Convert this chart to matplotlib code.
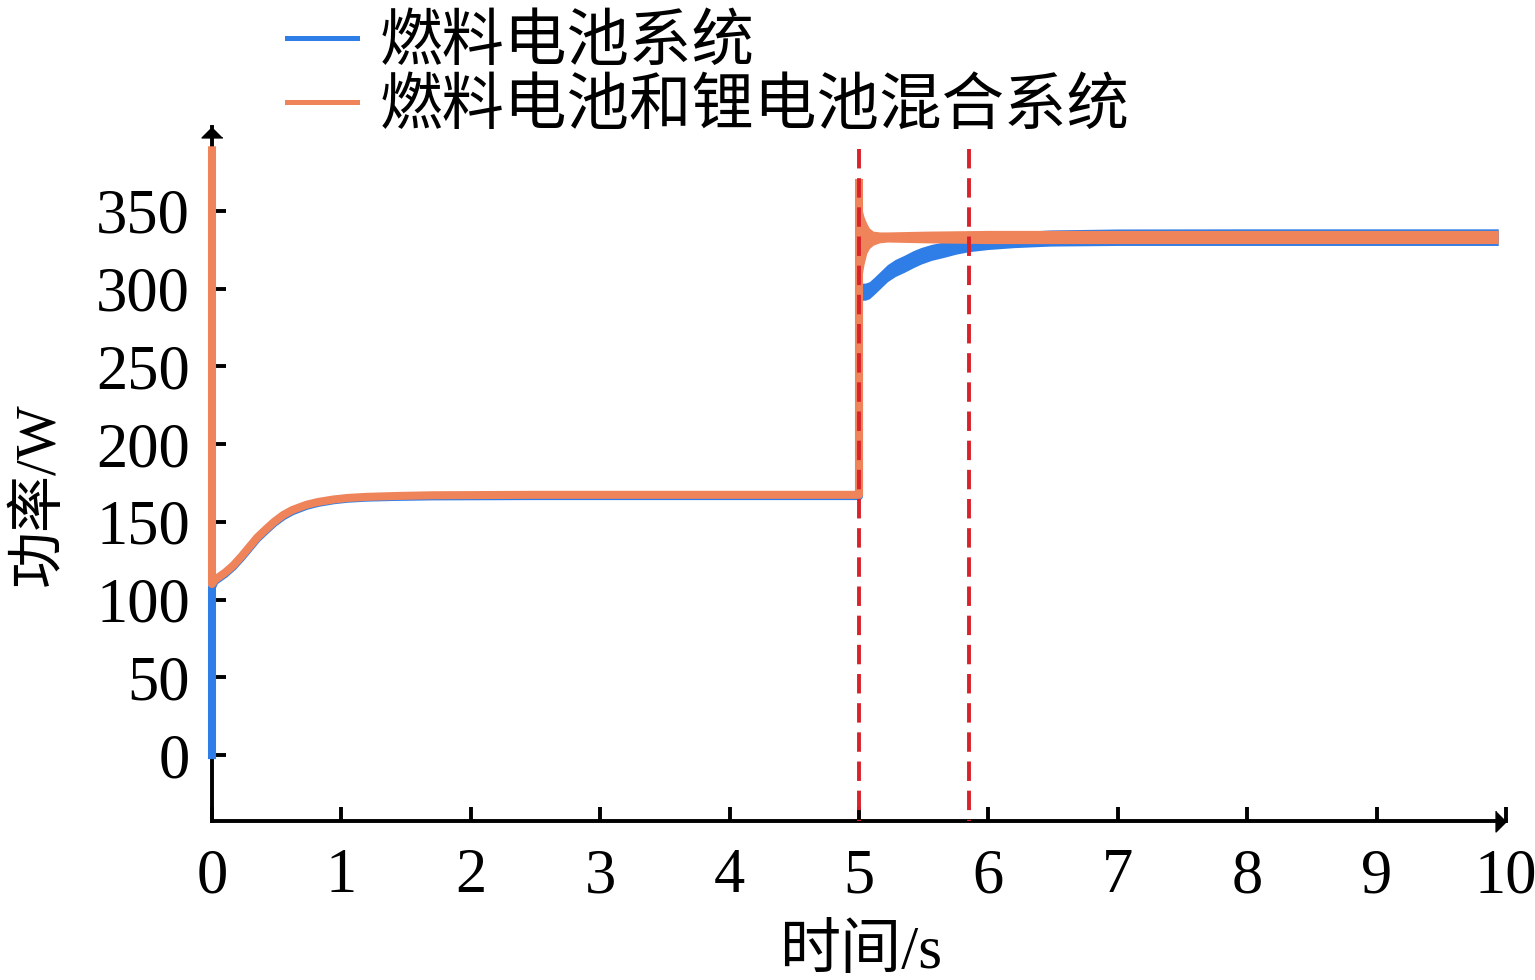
import matplotlib
matplotlib.use("Agg")
import matplotlib.pyplot as plt
from matplotlib.lines import Line2D

plt.rcParams['font.family'] = ['Liberation Serif', 'Noto Sans CJK SC', 'DejaVu Sans']

# ---------------- data ----------------
labels = ["燃料电池系统", "燃料电池和锂电池混合系统"]
x_ticks = [0, 1, 2, 3, 4, 5, 6, 7, 8, 9, 10]
y_ticks = [0, 50, 100, 150, 200, 250, 300, 350]

# 0 - 5 s (including the vertical step at t = 5 s)
fc_t = [0.0, 0.0, 0.02, 0.1, 0.165, 0.23, 0.29, 0.35, 0.42, 0.48, 0.55, 0.62, 0.73, 0.82,
        0.94, 1.05, 1.2, 1.45, 1.7, 2.5, 5.0, 5.0]
fc_p = [0, 108, 111.8, 116.5, 121.3, 127.3, 133.3, 139.3, 144.8, 149.3, 153.6, 156.8, 160.3, 162.2,
        163.9, 164.9, 165.6, 166.1, 166.4, 166.6, 166.6, 298]
hyb_t = [0.0, 0.0, 0.02, 0.1, 0.165, 0.23, 0.29, 0.35, 0.42, 0.48, 0.55, 0.62, 0.73, 0.82,
         0.94, 1.05, 1.2, 1.45, 1.7, 2.5, 5.0, 5.0]
hyb_p = [389, 110, 112.6, 117.3, 122, 128, 134, 140, 145.5, 150, 154.4, 157.6, 161, 162.8,
         164.4, 165.4, 166.1, 166.7, 167.1, 167.4, 167.4, 368]

# 5 - 10 s ripple envelopes
fc_post_t = [5.01, 5.02, 5.05, 5.08, 5.12, 5.17, 5.22, 5.28, 5.35, 5.42, 5.48, 5.56, 5.65, 5.75,
             5.85, 6.0, 6.2, 6.48, 7.0, 8.0, 9.94]
fc_post_lo = [292, 292.5, 292.6, 293.5, 296.5, 300.5, 304.5, 307.8, 310.5, 313.5, 315.8, 318.2, 320,
              322.2, 323.8, 325.2, 326.4, 327.4, 327.8, 327.8, 327.8]
fc_post_hi = [303, 303.5, 303.6, 304.5, 307.5, 311.5, 315.5, 318.8, 321.5, 324.5, 326.5, 328.5, 330,
              332.2, 333.8, 335.2, 336.6, 337.8, 338.4, 338.5, 338.5]
hyb_post_t = [5.0, 5.01, 5.02, 5.03, 5.04, 5.06, 5.08, 5.11, 5.16, 5.22, 5.5, 6.0, 7.0, 9.94]
hyb_post_hi = [368, 360, 353, 349, 346, 342, 339, 337, 336.5, 336.5, 337, 337.5, 337.5, 337.5]
hyb_post_lo = [276, 295, 305.6, 311.5, 316, 322.7, 325.8, 328, 329.5, 330, 329.5, 329, 329, 329]

event_t = [5.0, 5.85]
event_top = 390

# ---------------- style ----------------
c_fc = '#2f7de6'
c_hyb = '#ef8359'
c_red = '#d9212a'

fig = plt.figure(figsize=(15.35, 9.8), dpi=100)
ax = fig.add_axes([212 / 1535, 1 - 820.5 / 980, (1506 - 212) / 1535, (820.5 - 127) / 980])

ax.plot(fc_t, fc_p, color=c_fc, lw=5.8, solid_joinstyle='round', clip_on=False, zorder=2)
ax.fill_between(fc_post_t, fc_post_lo, fc_post_hi, color=c_fc, lw=0, zorder=2)
ax.plot(hyb_t, hyb_p, color=c_hyb, lw=5.8, solid_joinstyle='round', clip_on=False, zorder=3)
ax.fill_between(hyb_post_t, hyb_post_lo, hyb_post_hi, color=c_hyb, lw=0, zorder=3)

for te in event_t:
    ax.plot([te, te], [event_top, -42.1], color=c_red, lw=2.8, dashes=(5, 2.5), zorder=4)

ax.set_xlim(0, 10)
ax.set_ylim(-42.1, 404)
ax.set_xticks(x_ticks)
ax.set_yticks(y_ticks)
ax.tick_params(direction='in', length=10, width=2.8, labelsize=45)
ax.tick_params(axis='y', pad=16)
ax.tick_params(axis='x', pad=20)

for s in ['top', 'right']:
    ax.spines[s].set_visible(False)
for s in ['left', 'bottom']:
    ax.spines[s].set_linewidth(2.8)
    ax.spines[s].set_zorder(1)

# axis arrows
ax.plot(1, 0, marker=[(-1, 1), (-1, -1), (0, 0)], ms=15, color='k',
        transform=ax.transAxes, clip_on=False, zorder=5)
ax.plot(0, 1, marker=[(1, -1), (-1, -1), (0, 0)], ms=15, color='k',
        transform=ax.transAxes, clip_on=False, zorder=5)

ax.set_xlabel("时间/s", fontsize=44)
ax.set_ylabel("功率/W", fontsize=41)
ax.xaxis.set_label_coords(0.501, -0.150)
ax.yaxis.set_label_coords(-0.113, 0.47)

handles = [Line2D([], [], color=c_fc, lw=3.6), Line2D([], [], color=c_hyb, lw=3.6)]
fig.legend(handles, labels, loc='upper left', bbox_to_anchor=(287 / 1535, 0.990),
           frameon=False, handlelength=1.12, handletextpad=0.37,
           labelspacing=0.0, borderpad=0, borderaxespad=0,
           prop={'family': ['Noto Sans CJK SC'], 'size': 45})

fig.savefig("out.png", dpi=100)
